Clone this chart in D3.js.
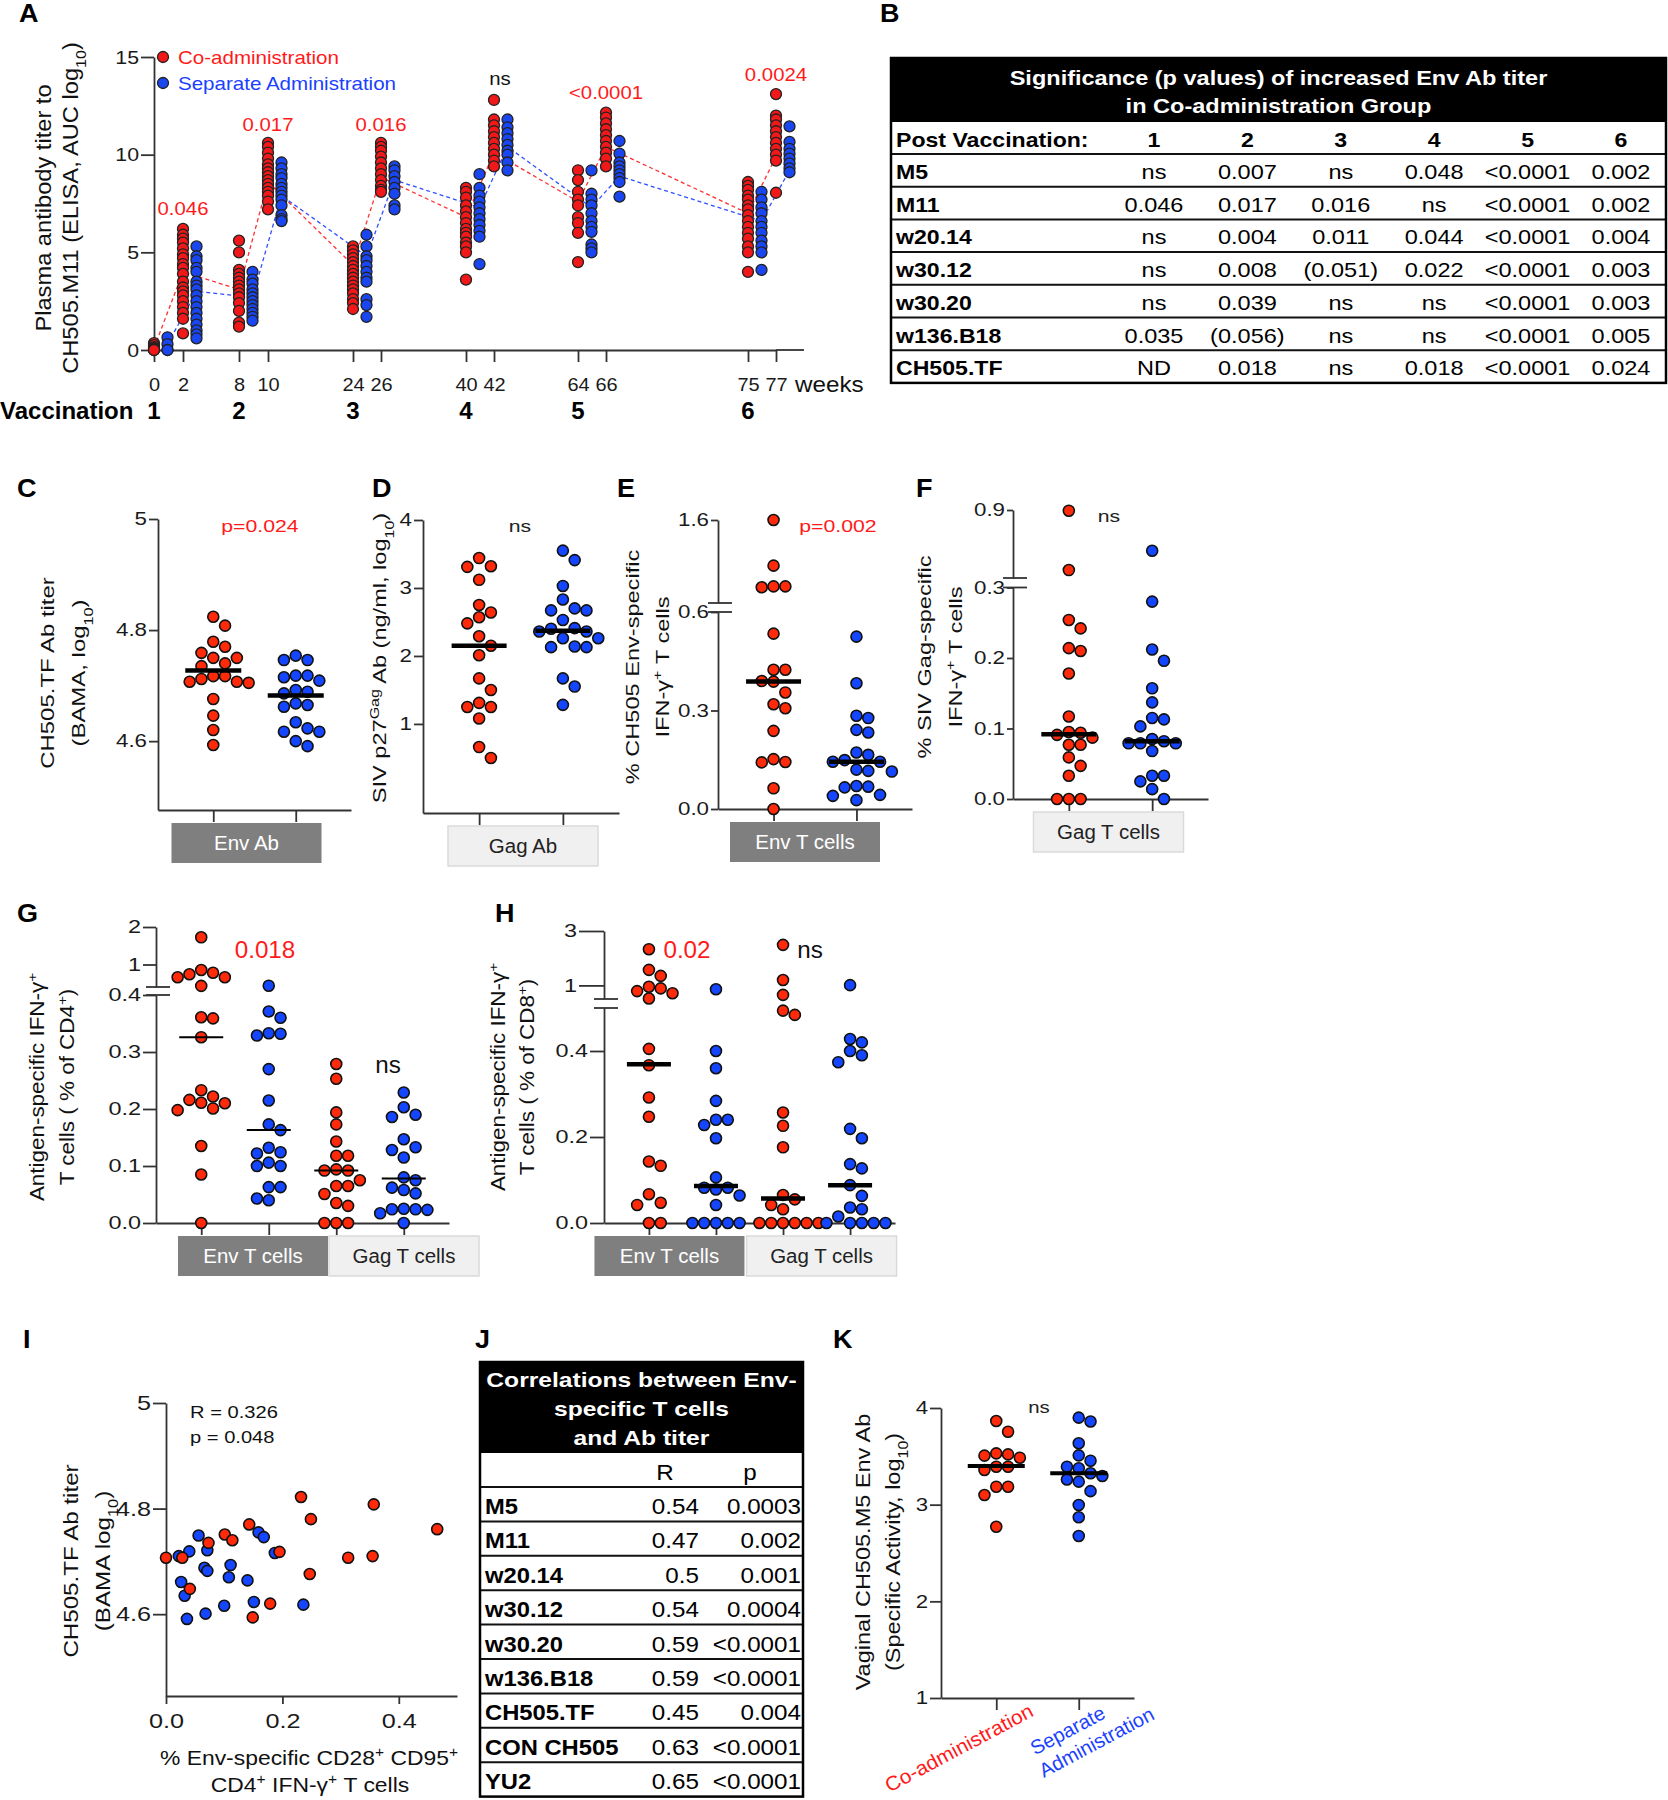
<!DOCTYPE html>
<html>
<head>
<meta charset="utf-8">
<title>Co-administration vs separate administration</title>
<script src="https://d3js.org/d3.v7.min.js"></script>
<style>
  body { margin: 0; background: #fff; }
  svg { display: block; }
</style>
</head>
<body>
<script>
var FONT = '"Liberation Sans", Arial, Helvetica, sans-serif';
var RED = "#ff2a0a", BLUE = "#1446ff";
var RED_A = "#f01818", BLUE_A = "#1a46f0";
var R = 5.5;

// ---------- A: plasma titer over time ----------
var weeksA = [0, 2, 8, 10, 24, 26, 40, 42, 64, 66, 75, 77];
var vaccWeeksA = [0, 8, 24, 40, 64, 75];
var vaccLabelsA = ["1", "2", "3", "4", "5", "6"];
var coTiterA = [
  [0.35, 0.25, 0.15, 0.1, 0.05, 0, 0, 0],
  [6.2, 5.9, 5.7, 5.5, 5.2, 4.9, 4.7, 4.4, 4.2, 3.9, 3.5, 3.2, 3.0, 2.8, 2.5, 2.2, 1.9, 1.6, 0.85],
  [5.6, 5.0, 4.1, 3.9, 3.7, 3.5, 3.3, 3.1, 2.9, 2.7, 2.4, 2.0, 1.4, 1.2],
  [10.6, 10.4, 10.1, 9.8, 9.5, 9.3, 9.1, 8.9, 8.7, 8.5, 8.3, 8.1, 7.9, 7.6, 7.2],
  [5.3, 5.1, 4.9, 4.7, 4.5, 4.3, 4.1, 3.9, 3.7, 3.5, 3.3, 3.1, 2.9, 2.6, 2.4, 2.1],
  [10.6, 10.4, 10.2, 9.9, 9.6, 9.3, 9.0, 8.7, 8.4, 8.2, 8.1],
  [8.3, 8.1, 7.8, 7.4, 7.1, 6.8, 6.5, 6.2, 6.0, 5.8, 5.5, 5.3, 5.0, 3.6],
  [12.8, 11.8, 11.5, 11.2, 10.9, 10.6, 10.3, 10.0, 9.7, 9.4],
  [9.2, 8.7, 8.1, 7.7, 7.4, 6.8, 6.5, 6.0, 4.5],
  [12.15, 11.9, 11.6, 11.3, 11.0, 10.7, 10.4, 10.1, 9.8, 9.4],
  [8.6, 8.4, 8.2, 7.9, 7.7, 7.4, 7.2, 6.9, 6.6, 6.3, 6.0, 5.7, 5.3, 5.0, 4.0],
  [13.1, 12.0, 11.8, 11.5, 11.2, 10.9, 10.6, 10.3, 10.0, 9.7, 8.05]
];
var sepTiterA = [
  [0.65, 0.3, 0.0, 0.0],
  [5.3, 4.8, 4.6, 4.2, 4.0, 3.5, 3.3, 3.1, 2.8, 2.5, 2.2, 1.9, 1.6, 1.3, 1.0, 0.8, 0.6],
  [4.0, 3.6, 3.4, 3.1, 2.9, 2.7, 2.5, 2.3, 2.1, 1.9, 1.7, 1.5],
  [9.6, 9.3, 9.0, 8.8, 8.5, 8.3, 8.1, 7.9, 7.7, 7.4, 6.9, 6.7, 6.6],
  [5.9, 5.3, 4.8, 4.6, 4.3, 4.0, 3.7, 3.5, 2.6, 2.3, 1.7],
  [9.4, 9.2, 8.9, 8.6, 8.3, 8.0, 7.4, 7.2],
  [9.0, 8.3, 7.9, 7.6, 7.3, 7.0, 6.7, 6.4, 6.1, 5.8, 4.4],
  [11.8, 11.4, 11.1, 10.8, 10.5, 10.2, 10.0, 9.6, 9.2],
  [9.2, 8.0, 7.7, 7.4, 7.0, 6.6, 6.3, 6.05, 5.4, 5.2, 5.0],
  [10.7, 10.05, 9.6, 9.4, 9.2, 9.0, 8.8, 8.6, 7.85],
  [8.1, 7.7, 7.3, 7.0, 6.6, 6.3, 6.0, 5.6, 5.3, 5.0, 4.1],
  [11.45, 10.65, 10.3, 10.05, 9.8, 9.55, 9.3, 9.1]
];
var coMeanA = [0.1, 4.0, 3.1, 8.6, 4.35, 8.85, 6.8, 10.1, 7.6, 10.4, 7.0, 9.9];
var sepMeanA = [0.3, 3.0, 2.7, 7.9, 4.8, 8.7, 7.3, 10.4, 7.3, 8.9, 6.6, 9.2];
var pWeeksA = [2, 10, 26, 42, 66, 77];
var pTextA = ["0.046", "0.017", "0.016", "ns", "<0.0001", "0.0024"];
var pLevelA = [6.9, 11.2, 11.2, 13.55, 12.85, 13.75];
var legendA = ["Co-administration", "Separate Administration"];

// ---------- B: p value table ----------
var tableBTitle = ["Significance (p values)  of increased Env Ab titer", "in Co-administration Group"];
var tableBCols = ["1", "2", "3", "4", "5", "6"];
var tableBRows = ["M5", "M11", "w20.14", "w30.12", "w30.20", "w136.B18", "CH505.TF"];
var tableBVals = [
  ["ns", "0.007", "ns", "0.048", "<0.0001", "0.002"],
  ["0.046", "0.017", "0.016", "ns", "<0.0001", "0.002"],
  ["ns", "0.004", "0.011", "0.044", "<0.0001", "0.004"],
  ["ns", "0.008", "(0.051)", "0.022", "<0.0001", "0.003"],
  ["ns", "0.039", "ns", "ns", "<0.0001", "0.003"],
  ["0.035", "(0.056)", "ns", "ns", "<0.0001", "0.005"],
  ["ND", "0.018", "ns", "0.018", "<0.0001", "0.024"]
];

// ---------- C-F ----------
var envAbCo = [4.824, 4.808, 4.779, 4.770, 4.759, 4.750, 4.750, 4.740, 4.735, 4.717, 4.717, 4.712, 4.707, 4.707, 4.705, 4.676, 4.646, 4.620, 4.593];
var envAbSep = [4.754, 4.746, 4.746, 4.718, 4.718, 4.715, 4.709, 4.692, 4.689, 4.686, 4.668, 4.665, 4.662, 4.634, 4.623, 4.617, 4.617, 4.600, 4.591];
var envAbMed = [4.727, 4.682];
var gagAbCo = [3.44, 3.32, 3.31, 3.12, 2.75, 2.64, 2.57, 2.48, 2.29, 2.15, 2.01, 1.67, 1.5, 1.31, 1.25, 1.25, 1.08, 0.66, 0.50];
var gagAbSep = [3.55, 3.41, 3.03, 2.83, 2.70, 2.67, 2.67, 2.53, 2.41, 2.40, 2.36, 2.36, 2.26, 2.26, 2.14, 2.13, 2.13, 1.67, 1.55, 1.28];
var gagAbMed = [2.15, 2.37];
var envTCo = [1.6, 1.05, 0.80, 0.79, 0.80, 0.534, 0.424, 0.424, 0.388, 0.39, 0.355, 0.307, 0.319, 0.238, 0.142, 0.152, 0.143, 0.063, 0.0];
var envTSep = [0.525, 0.383, 0.277, 0.284, 0.233, 0.241, 0.165, 0.172, 0.149, 0.144, 0.144, 0.116, 0.114, 0.12, 0.066, 0.068, 0.07, 0.027, 0.043, 0.04];
var envTMed = [0.388, 0.144];
var gagTCo = [0.894, 0.37, 0.254, 0.242, 0.21, 0.214, 0.178, 0.117, 0.095, 0.091, 0.094, 0.077, 0.087, 0.077, 0.059, 0.047, 0.033, 0, 0, 0];
var gagTSep = [0.54, 0.28, 0.212, 0.196, 0.157, 0.137, 0.115, 0.113, 0.103, 0.085, 0.082, 0.079, 0.079, 0.079, 0.068, 0.033, 0.033, 0.025, 0.014, 0];
var gagTMed = [0.092, 0.082];

// ---------- G, H ----------
var cd4EnvCo = [1.725, 0.853, 0.78, 0.74, 0.66, 0.66, 0.43, 0.359, 0.361, 0.326, 0.233, 0.222, 0.216, 0.211, 0.21, 0.198, 0.201, 0.135, 0.085, 0];
var cd4EnvSep = [0.435, 0.371, 0.36, 0.333, 0.329, 0.332, 0.27, 0.215, 0.173, 0.163, 0.132, 0.122, 0.124, 0.10, 0.106, 0.10, 0.063, 0.063, 0.04, 0.043];
var cd4GagCo = [0.279, 0.253, 0.194, 0.173, 0.143, 0.118, 0.118, 0.094, 0.092, 0.092, 0.075, 0.065, 0.065, 0.051, 0.03, 0.035, 0, 0, 0];
var cd4GagSep = [0.229, 0.203, 0.19, 0.186, 0.147, 0.128, 0.133, 0.115, 0.08, 0.075, 0.062, 0.058, 0.052, 0.025, 0.023, 0.024, 0.017, 0.024, 0];
var cd4Med = [0.326, 0.163, 0.092, 0.078];
var cd8EnvCo = [2.33, 1.57, 1.35, 0.95, 0.89, 0.79, 0.71, 0.52, 0.405, 0.367, 0.292, 0.247, 0.143, 0.133, 0.067, 0.047, 0.042, 0, 0];
var cd8EnvSep = [0.86, 0.4, 0.36, 0.284, 0.24, 0.24, 0.228, 0.197, 0.106, 0.082, 0.082, 0.078, 0.064, 0.042, 0, 0, 0, 0, 0];
var cd8GagCo = [2.49, 1.2, 0.65, 0.494, 0.484, 0.257, 0.226, 0.176, 0.065, 0.055, 0.042, 0.032, 0, 0, 0, 0, 0, 0];
var cd8GagSep = [1.01, 0.428, 0.42, 0.40, 0.39, 0.374, 0.219, 0.197, 0.137, 0.127, 0.088, 0.063, 0.036, 0.032, 0.015, 0, 0, 0, 0, 0];
var cd8Med = [0.369, 0.086, 0.057, 0.088];

// ---------- I: correlation scatter ----------
var iCoX = [0.0, 0.028, 0.041, 0.073, 0.101, 0.114, 0.143, 0.149, 0.179, 0.195, 0.232, 0.249, 0.247, 0.313, 0.355, 0.357, 0.466];
var iCoY = [4.707, 4.707, 4.648, 4.735, 4.751, 4.74, 4.77, 4.594, 4.62, 4.718, 4.822, 4.78, 4.676, 4.707, 4.71, 4.808, 4.761];
var iSepX = [0.022, 0.026, 0.032, 0.036, 0.040, 0.056, 0.066, 0.071, 0.071, 0.068, 0.100, 0.111, 0.108, 0.140, 0.151, 0.159, 0.168, 0.187, 0.236];
var iSepY = [4.71, 4.661, 4.635, 4.591, 4.719, 4.749, 4.688, 4.682, 4.721, 4.601, 4.616, 4.693, 4.67, 4.664, 4.623, 4.755, 4.746, 4.716, 4.618];
var iStats = ["R = 0.326", "p = 0.048"];

// ---------- J: correlation table ----------
var tableJTitle = ["Correlations  between Env-", "specific  T cells", "and Ab titer"];
var tableJRows = ["M5", "M11", "w20.14", "w30.12", "w30.20", "w136.B18", "CH505.TF", "CON CH505", "YU2"];
var tableJR = ["0.54", "0.47", "0.5", "0.54", "0.59", "0.59", "0.45", "0.63", "0.65"];
var tableJP = ["0.0003", "0.002", "0.001", "0.0004", "<0.0001", "<0.0001", "0.004", "<0.0001", "<0.0001"];

// ---------- K: vaginal Env Ab ----------
var vagCo = [3.866, 3.755, 3.531, 3.52, 3.507, 3.486, 3.393, 3.393, 3.359, 3.186, 3.186, 3.1, 2.772];
var vagSep = [3.90, 3.86, 3.635, 3.51, 3.455, 3.393, 3.376, 3.325, 3.297, 3.26, 3.238, 3.14, 2.997, 2.87, 2.676];
var vagMed = [3.40, 3.325];

// =====================================================
var svg = d3.select("body").append("svg")
  .attr("width", 1668).attr("height", 1800)
  .attr("font-family", FONT);

// widen glyphs along the text direction (the figure's type is set wide);
// anchoring is redone by hand so the stretched text stays in place
function stretch(t, k) {
  if (!k || k === 1) return t;
  var n = t.node(), w = n.getComputedTextLength();
  if (!(w > 0)) return t;
  var L = w * k;
  var anchor = t.attr("text-anchor") || getComputedStyle(n).textAnchor || "start";
  var x = +t.attr("x") || 0;
  if (anchor === "middle") x -= L / 2;
  else if (anchor === "end") x -= L;
  t.attr("x", x).attr("text-anchor", "start")
    .attr("textLength", L).attr("lengthAdjust", "spacingAndGlyphs");
  return t;
}

function label(x, y, s, size, o) {
  o = o || {};
  var t = svg.append("text").attr("x", x).attr("y", y).text(s)
    .attr("font-size", size)
    .attr("font-weight", o.bold ? "bold" : null)
    .attr("fill", o.fill || "#111")
    .attr("text-anchor", o.anchor || "start");
  return stretch(t, o.k);
}

function rich(t, parts) {
  parts.forEach(function(p) {
    var s = t.append("tspan").text(p[0]);
    if (p[1] === "sub") s.attr("baseline-shift", "sub").attr("font-size", "68%");
    if (p[1] === "sup") s.attr("baseline-shift", "super").attr("font-size", "68%");
  });
}

function yLabel(lines, cxs, cy, fs, k) {
  lines.forEach(function(parts, i) {
    var t = svg.append("text")
      .attr("transform", "translate(" + (cxs[i] + fs * 0.36) + "," + cy + ") rotate(-90)")
      .attr("text-anchor", "middle").attr("font-size", fs).attr("fill", "#111");
    rich(t, parts);
    stretch(t, k);
  });
}

function styleAxis(a, fs, k) {
  a.attr("font-family", FONT).attr("font-size", fs);
  a.select(".domain").attr("stroke", "#333").attr("stroke-width", 1.8);
  a.selectAll(".tick line").attr("stroke", "#333").attr("stroke-width", 1.8);
  a.selectAll(".tick text").attr("fill", "#1a1a1a").each(function() { stretch(d3.select(this), k); });
}

function swarm(vals, cx, yf, r) {
  var placed = [], d = 2 * r + 0.8;
  vals.slice().sort(function(a, b) { return b - a; }).forEach(function(v) {
    var y = yf(v);
    for (var k = 0; k < 30; k++) {
      var off = k === 0 ? 0 : (k % 2 ? 1 : -1) * Math.ceil(k / 2) * d;
      var ok = placed.every(function(p) {
        var dx = p.x - (cx + off), dy = p.y - y;
        return dx * dx + dy * dy >= d * d * 0.97;
      });
      if (ok) { placed.push({ x: cx + off, y: y }); break; }
    }
  });
  return placed;
}

function fmt1(d) { return d === Math.round(d) && d > 1.5 ? String(d) : d.toFixed(1); }

function dotPanel(c) {
  var x = d3.scalePoint().domain(d3.range(c.groups.length)).range([c.x0, c.x1]).padding(0.67);
  var yf = c.up ? function(v) { return v <= c.brk ? c.low(v) : c.up(v); } : c.low;
  var ya = svg.append("g").attr("transform", "translate(" + c.x0 + ",0)")
    .call(d3.axisLeft(c.low).tickValues(c.lowTicks).tickFormat(c.fmt)
      .tickSize(c.tick).tickSizeOuter(0).tickPadding(2));
  styleAxis(ya, c.tfs, c.tk);
  if (c.up) {
    var yb = svg.append("g").attr("transform", "translate(" + c.x0 + ",0)")
      .call(d3.axisLeft(c.up).tickValues(c.upTicks).tickFormat(c.fmt)
        .tickSize(c.upTick || c.tick).tickSizeOuter(0).tickPadding(2));
    styleAxis(yb, c.tfs, c.tk);
    [c.low(c.brk), c.up(c.brk)].forEach(function(yy) {
      svg.append("line").attr("x1", c.x0 - 10).attr("x2", c.x0 + 14)
        .attr("y1", yy).attr("y2", yy).attr("stroke", "#333").attr("stroke-width", 1.8);
    });
  }
  var y0 = c.low.range()[0];
  var xa = svg.append("g").attr("transform", "translate(0," + y0 + ")")
    .call(d3.axisBottom(x).tickSize(12).tickSizeOuter(0).tickFormat(""));
  styleAxis(xa, 10);

  (c.cats || []).forEach(function(k) {
    var cx = (x(k.from) + x(k.to)) / 2 + k.shift;
    svg.append("rect").attr("x", cx - 75).attr("y", y0 + 13).attr("width", 150).attr("height", 40)
      .attr("fill", k.dark ? "#7f7f7f" : "#f0f0f0")
      .attr("stroke", k.dark ? "none" : "#dadada").attr("stroke-width", 1.5);
    label(cx, y0 + 40, k.label, 19.5, { anchor: "middle", fill: k.dark ? "#fff" : "#222", k: 1.05 });
  });

  c.groups.forEach(function(gp, i) {
    var pts = swarm(gp.vals, x(i), yf, R);
    svg.append("g").selectAll("circle").data(pts).join("circle")
      .attr("cx", function(d) { return d.x; }).attr("cy", function(d) { return d.y; })
      .attr("r", R).attr("fill", gp.color).attr("stroke", "#111").attr("stroke-width", 1.6);
  });
  c.groups.forEach(function(gp, i) {
    svg.append("line").attr("x1", x(i) - c.medW / 2).attr("x2", x(i) + c.medW / 2)
      .attr("y1", yf(gp.med)).attr("y2", yf(gp.med))
      .attr("stroke", "#000").attr("stroke-width", c.medSW);
  });
  (c.notes || []).forEach(function(n) {
    label(n.x, n.y, n.text, n.size, { anchor: "middle", fill: n.fill, k: n.k });
  });
  return x;
}

// ---------- panel letters ----------
var letters = [["A", 19, 22], ["B", 880, 22], ["C", 17, 497], ["D", 372, 497], ["E", 617, 497],
  ["F", 916, 497], ["G", 17, 922], ["H", 495, 922], ["I", 23, 1348], ["J", 475, 1348], ["K", 833, 1348]];
letters.forEach(function(l) { label(l[1], l[2], l[0], 25, { bold: true, fill: "#000", k: 1.08 }); });

// ---------- Panel A ----------
var xA = d3.scaleLinear().domain(weeksA).range([154, 183, 239, 268, 353, 381, 466, 494, 578, 606, 748, 776]);
var yA = d3.scaleLinear().domain([0, 15]).range([350, 57]);
var offA = 13.5;

var ayA = svg.append("g").attr("transform", "translate(154,0)")
  .call(d3.axisLeft(yA).tickValues([0, 5, 10, 15]).tickSize(13).tickSizeOuter(0).tickPadding(2));
styleAxis(ayA, 19, 1.12);
var axA = svg.append("g").attr("transform", "translate(0,350)")
  .call(d3.axisBottom(xA).tickValues(weeksA).tickFormat(d3.format("d")).tickSize(12).tickSizeOuter(0).tickPadding(16));
styleAxis(axA, 18.5, 1.08);
svg.append("line").attr("x1", xA(77)).attr("x2", xA(77) + 28).attr("y1", 350).attr("y2", 350)
  .attr("stroke", "#333").attr("stroke-width", 1.8);
label(xA(77) + 19, 392, "weeks", 22, { k: 1.1 });
label(0, 419, "Vaccination", 24, { bold: true, fill: "#000" });
vaccWeeksA.forEach(function(w, i) { label(xA(w), 419, vaccLabelsA[i], 24, { bold: true, anchor: "middle", fill: "#000" }); });

var meanLine = d3.line().x(function(d) { return d[0]; }).y(function(d) { return yA(d[1]); });
svg.append("path").attr("d", meanLine(weeksA.map(function(w, i) { return [xA(w), coMeanA[i]]; })))
  .attr("fill", "none").attr("stroke", "#ff3030").attr("stroke-width", 1.3).attr("stroke-dasharray", "4,3");
svg.append("path").attr("d", meanLine(weeksA.map(function(w, i) { return [xA(w) + offA, sepMeanA[i]]; })))
  .attr("fill", "none").attr("stroke", "#3050ff").attr("stroke-width", 1.3).attr("stroke-dasharray", "4,3");

weeksA.forEach(function(w, i) {
  svg.append("g").selectAll("circle").data(coTiterA[i]).join("circle")
    .attr("cx", xA(w)).attr("cy", function(d) { return yA(d); }).attr("r", R)
    .attr("fill", RED_A).attr("stroke", "#222").attr("stroke-width", 1.3);
  svg.append("g").selectAll("circle").data(sepTiterA[i]).join("circle")
    .attr("cx", xA(w) + offA).attr("cy", function(d) { return yA(d); }).attr("r", R)
    .attr("fill", BLUE_A).attr("stroke", "#222").attr("stroke-width", 1.3);
});
pWeeksA.forEach(function(w, i) {
  label(xA(w) + (pTextA[i] === "ns" ? 6 : 0), yA(pLevelA[i]), pTextA[i], 18,
    { anchor: "middle", fill: pTextA[i] === "ns" ? "#111" : "#ff1a1a", k: 1.13 });
});
legendA.forEach(function(s, i) {
  svg.append("circle").attr("cx", 163).attr("cy", 57 + i * 26).attr("r", R)
    .attr("fill", i ? BLUE_A : RED_A).attr("stroke", "#222").attr("stroke-width", 1.3);
  label(178, 64 + i * 26, s, 18.5, { fill: i ? "#1a40ff" : "#ff1a1a", k: 1.11 });
});
yLabel([[["Plasma antibody titer to"]], [["CH505.M11 (ELISA, AUC log"], ["10", "sub"], [")"]]], [43, 70], 208, 21.5, 1.1);

// ---------- Panel B ----------
(function() {
  var x0 = 891, x1 = 1666, y0 = 58, hHead = 64, hSub = 32, hRow = 32.7;
  var colX = d3.scalePoint().domain(tableBCols).range([1154, 1621]);
  var top = y0 + hHead + hSub;
  svg.append("rect").attr("x", x0).attr("y", y0).attr("width", x1 - x0).attr("height", hHead).attr("fill", "#000");
  tableBTitle.forEach(function(s, i) {
    label((x0 + x1) / 2, y0 + 27 + i * 28, s, 21, { bold: true, anchor: "middle", fill: "#fff", k: 1.12 });
  });
  label(x0 + 5, y0 + hHead + 25, "Post Vaccination:", 21, { bold: true, fill: "#000", k: 1.1 });
  tableBCols.forEach(function(c) { label(colX(c), y0 + hHead + 25, c, 21, { bold: true, anchor: "middle", fill: "#000", k: 1.1 }); });
  tableBRows.forEach(function(r, i) {
    var ry = top + i * hRow;
    svg.append("line").attr("x1", x0).attr("x2", x1).attr("y1", ry).attr("y2", ry)
      .attr("stroke", "#111").attr("stroke-width", 2);
    label(x0 + 5, ry + 25, r, 21, { bold: true, fill: "#000", k: 1.1 });
    tableBVals[i].forEach(function(v, j) { label(colX(tableBCols[j]), ry + 25, v, 21, { anchor: "middle", fill: "#000", k: 1.12 }); });
  });
  svg.append("rect").attr("x", x0).attr("y", y0).attr("width", x1 - x0)
    .attr("height", hHead + hSub + hRow * tableBRows.length)
    .attr("fill", "none").attr("stroke", "#000").attr("stroke-width", 2.5);
})();

// ---------- Panel C ----------
dotPanel({
  x0: 158, x1: 351, tick: 9, tfs: 18, tk: 1.24,
  low: d3.scaleLinear().domain([4.476, 5]).range([810, 519]), lowTicks: [4.6, 4.8, 5], fmt: fmt1,
  groups: [{ vals: envAbCo, color: RED, med: envAbMed[0] }, { vals: envAbSep, color: BLUE, med: envAbMed[1] }],
  medW: 56, medSW: 4.5,
  cats: [{ label: "Env Ab", from: 0, to: 1, dark: true, shift: -8 }],
  notes: [{ text: "p=0.024", x: 260, y: 532, size: 17, fill: "#ff1a1a", k: 1.25 }]
});
yLabel([[["CH505.TF Ab titer"]], [["(BAMA, log"], ["10", "sub"], [")"]]], [47, 78], 673, 19, 1.26);

// ---------- Panel D ----------
dotPanel({
  x0: 423, x1: 619, tick: 9, tfs: 18, tk: 1.24,
  low: d3.scaleLinear().domain([-0.31, 4]).range([813, 520]), lowTicks: [1, 2, 3, 4], fmt: d3.format("d"),
  groups: [{ vals: gagAbCo, color: RED, med: gagAbMed[0] }, { vals: gagAbSep, color: BLUE, med: gagAbMed[1] }],
  medW: 55, medSW: 4.5,
  cats: [{ label: "Gag Ab", from: 0, to: 1, dark: false, shift: 2 }],
  notes: [{ text: "ns", x: 520, y: 532, size: 17, fill: "#222", k: 1.25 }]
});
yLabel([[["SIV p27"], ["Gag", "sup"], [" Ab (ng/ml, log"], ["10", "sub"], [")"]]], [379], 658, 19, 1.24);

// ---------- Panel E ----------
dotPanel({
  x0: 718, x1: 912, tick: 7, tfs: 18, tk: 1.24,
  low: d3.scaleLinear().domain([0, 0.6]).range([809, 612]), lowTicks: [0, 0.3, 0.6],
  up: d3.scaleLinear().domain([0.6, 1.6]).range([603, 520]), upTicks: [1.6], brk: 0.6,
  fmt: function(d) { return d.toFixed(1); },
  groups: [{ vals: envTCo, color: RED, med: envTMed[0] }, { vals: envTSep, color: BLUE, med: envTMed[1] }],
  medW: 55, medSW: 4.5,
  cats: [{ label: "Env T cells", from: 0, to: 1, dark: true, shift: -10 }],
  notes: [{ text: "p=0.002", x: 838, y: 532, size: 17, fill: "#ff1a1a", k: 1.25 }]
});
yLabel([[["% CH505 Env-specific"]], [["IFN-γ"], ["+", "sup"], [" T cells"]]], [632, 662], 667, 19, 1.24);

// ---------- Panel F ----------
dotPanel({
  x0: 1013, x1: 1208, tick: 6, tfs: 18, tk: 1.24,
  low: d3.scaleLinear().domain([0, 0.3]).range([799, 587.5]), lowTicks: [0, 0.1, 0.2, 0.3],
  up: d3.scaleLinear().domain([0.3, 0.9]).range([578, 510]), upTicks: [0.9], brk: 0.3,
  fmt: function(d) { return d.toFixed(1); },
  groups: [{ vals: gagTCo, color: RED, med: gagTMed[0] }, { vals: gagTSep, color: BLUE, med: gagTMed[1] }],
  medW: 55, medSW: 4.5,
  cats: [{ label: "Gag T cells", from: 0, to: 1, dark: false, shift: -2 }],
  notes: [{ text: "ns", x: 1109, y: 522, size: 17, fill: "#222", k: 1.25 }]
});
yLabel([[["% SIV Gag-specific"]], [["IFN-γ"], ["+", "sup"], [" T cells"]]], [924, 955], 657, 19, 1.24);

// ---------- Panel G ----------
dotPanel({
  x0: 156, x1: 449, tick: 13, tfs: 18, tk: 1.3,
  low: d3.scaleLinear().domain([0, 0.4]).range([1223, 995]), lowTicks: [0, 0.1, 0.2, 0.3, 0.4],
  up: d3.scaleLinear().domain([0.4, 2]).range([987, 927]), upTicks: [1, 2], brk: 0.4,
  fmt: function(d) { return d >= 1 ? String(d) : d.toFixed(1); },
  groups: [{ vals: cd4EnvCo, color: RED, med: cd4Med[0] }, { vals: cd4EnvSep, color: BLUE, med: cd4Med[1] },
    { vals: cd4GagCo, color: RED, med: cd4Med[2] }, { vals: cd4GagSep, color: BLUE, med: cd4Med[3] }],
  medW: 44, medSW: 2,
  cats: [{ label: "Env T cells", from: 0, to: 1, dark: true, shift: 18 },
    { label: "Gag T cells", from: 2, to: 3, dark: false, shift: 34 }],
  notes: [{ text: "0.018", x: 265, y: 958, size: 23.5, fill: "#ff1a1a", k: 1.03 },
    { text: "ns", x: 388, y: 1073, size: 23.5, fill: "#111", k: 1.03 }]
});
yLabel([[["Antigen-specific IFN-γ"], ["+", "sup"]], [["T cells ( % of CD4"], ["+", "sup"], [")"]]], [37, 67], 1087, 19.5, 1.15);

// ---------- Panel H ----------
dotPanel({
  x0: 604, x1: 895, tick: 14, upTick: 25, tfs: 18, tk: 1.3,
  low: d3.scaleLinear().domain([0, 0.5]).range([1223, 1008]), lowTicks: [0, 0.2, 0.4],
  up: d3.scaleLinear().domain([0.5, 3]).range([999, 931]), upTicks: [1, 3], brk: 0.5,
  fmt: function(d) { return d >= 1 ? String(d) : d.toFixed(1); },
  groups: [{ vals: cd8EnvCo, color: RED, med: cd8Med[0] }, { vals: cd8EnvSep, color: BLUE, med: cd8Med[1] },
    { vals: cd8GagCo, color: RED, med: cd8Med[2] }, { vals: cd8GagSep, color: BLUE, med: cd8Med[3] }],
  medW: 44, medSW: 4.5,
  cats: [{ label: "Env T cells", from: 0, to: 1, dark: true, shift: -13 },
    { label: "Gag T cells", from: 2, to: 3, dark: false, shift: 5 }],
  notes: [{ text: "0.02", x: 687, y: 958, size: 23.5, fill: "#ff1a1a", k: 1.03 },
    { text: "ns", x: 810, y: 958, size: 23.5, fill: "#111", k: 1.03 }]
});
yLabel([[["Antigen-specific IFN-γ"], ["+", "sup"]], [["T cells ( % of CD8"], ["+", "sup"], [")"]]], [498, 527], 1077, 19.5, 1.15);

// ---------- Panel I ----------
(function() {
  var x = d3.scaleLinear().domain([0, 0.5]).range([166, 457]);
  var y = d3.scaleLinear().domain([4.445, 5]).range([1696, 1403]);
  var ay = svg.append("g").attr("transform", "translate(166,0)")
    .call(d3.axisLeft(y).tickValues([4.6, 4.8, 5]).tickFormat(fmt1).tickSize(13).tickSizeOuter(0).tickPadding(2));
  styleAxis(ay, 21, 1.2);
  var ax = svg.append("g").attr("transform", "translate(0,1696)")
    .call(d3.axisBottom(x).tickValues([0, 0.2, 0.4]).tickFormat(d3.format(".1f")).tickSize(8).tickSizeOuter(0).tickPadding(9));
  styleAxis(ax, 21, 1.2);
  svg.append("g").selectAll("circle").data(iSepX).join("circle")
    .attr("cx", function(d) { return x(d); }).attr("cy", function(d, i) { return y(iSepY[i]); })
    .attr("r", R).attr("fill", BLUE).attr("stroke", "#111").attr("stroke-width", 1.6);
  svg.append("g").selectAll("circle").data(iCoX).join("circle")
    .attr("cx", function(d) { return x(d); }).attr("cy", function(d, i) { return y(iCoY[i]); })
    .attr("r", R).attr("fill", RED).attr("stroke", "#111").attr("stroke-width", 1.6);
  iStats.forEach(function(s, i) { label(190, 1418 + i * 25, s, 16.5, { fill: "#111", k: 1.22 }); });
  var t1 = svg.append("text").attr("x", 309).attr("y", 1765).attr("text-anchor", "middle").attr("font-size", 21).attr("fill", "#111");
  rich(t1, [["% Env-specific CD28"], ["+", "sup"], [" CD95"], ["+", "sup"]]);
  stretch(t1, 1.09);
  var t2 = svg.append("text").attr("x", 310).attr("y", 1792).attr("text-anchor", "middle").attr("font-size", 21).attr("fill", "#111");
  rich(t2, [["CD4"], ["+", "sup"], [" IFN-γ"], ["+", "sup"], [" T cells"]]);
  stretch(t2, 1.09);
  yLabel([[["CH505.TF Ab titer"]], [["(BAMA log"], ["10", "sub"], [")"]]], [70, 102], 1561, 21, 1.15);
})();

// ---------- Panel J ----------
(function() {
  var x0 = 480, x1 = 803, y0 = 1362, hHead = 91, hSub = 34, hRow = 34.4;
  var top = y0 + hHead + hSub;
  svg.append("rect").attr("x", x0).attr("y", y0).attr("width", x1 - x0).attr("height", hHead).attr("fill", "#000");
  tableJTitle.forEach(function(s, i) {
    label((x0 + x1) / 2, y0 + 25 + i * 29, s, 20.5, { bold: true, anchor: "middle", fill: "#fff", k: 1.2 });
  });
  label(665, y0 + hHead + 27, "R", 22, { anchor: "middle", fill: "#000", k: 1.1 });
  label(750, y0 + hHead + 27, "p", 22, { anchor: "middle", fill: "#000", k: 1.1 });
  tableJRows.forEach(function(r, i) {
    var ry = top + i * hRow;
    svg.append("line").attr("x1", x0).attr("x2", x1).attr("y1", ry).attr("y2", ry)
      .attr("stroke", "#111").attr("stroke-width", 2);
    label(x0 + 5, ry + 27, r, 22, { bold: true, fill: "#000", k: 1.08 });
    label(699, ry + 27, tableJR[i], 22, { anchor: "end", fill: "#000", k: 1.1 });
    label(801, ry + 27, tableJP[i], 22, { anchor: "end", fill: "#000", k: 1.1 });
  });
  svg.append("rect").attr("x", x0).attr("y", y0).attr("width", x1 - x0)
    .attr("height", hHead + hSub + hRow * tableJRows.length)
    .attr("fill", "none").attr("stroke", "#000").attr("stroke-width", 2.5);
})();

// ---------- Panel K ----------
var xK = dotPanel({
  x0: 941, x1: 1134, tick: 11, tfs: 18.5, tk: 1.2,
  low: d3.scaleLinear().domain([1, 4]).range([1698, 1408]), lowTicks: [1, 2, 3, 4], fmt: d3.format("d"),
  groups: [{ vals: vagCo, color: RED, med: vagMed[0] }, { vals: vagSep, color: BLUE, med: vagMed[1] }],
  medW: 57, medSW: 4,
  notes: [{ text: "ns", x: 1039, y: 1413, size: 17, fill: "#222", k: 1.2 }]
});
yLabel([[["Vaginal CH505.M5 Env Ab"]], [["(Specific Activity, log"], ["10", "sub"], [")"]]], [862, 892], 1552, 21, 1.12);
var coLab = svg.append("text").attr("transform", "translate(" + (xK(0) - 34) + ",1754) rotate(-28)")
  .attr("text-anchor", "middle").attr("font-size", 20).attr("fill", "#ff1a1a").text("Co-administration");
stretch(coLab, 1.05);
var sepLab = svg.append("text").attr("transform", "translate(" + (xK(1) + 2) + ",1738) rotate(-28)")
  .attr("text-anchor", "middle").attr("font-size", 20).attr("fill", "#1a40ff");
sepLab.append("tspan").attr("x", -8).attr("dy", -6).text("Separate");
sepLab.append("tspan").attr("x", 12).attr("dy", 24).text("Administration");
</script>
</body>
</html>
